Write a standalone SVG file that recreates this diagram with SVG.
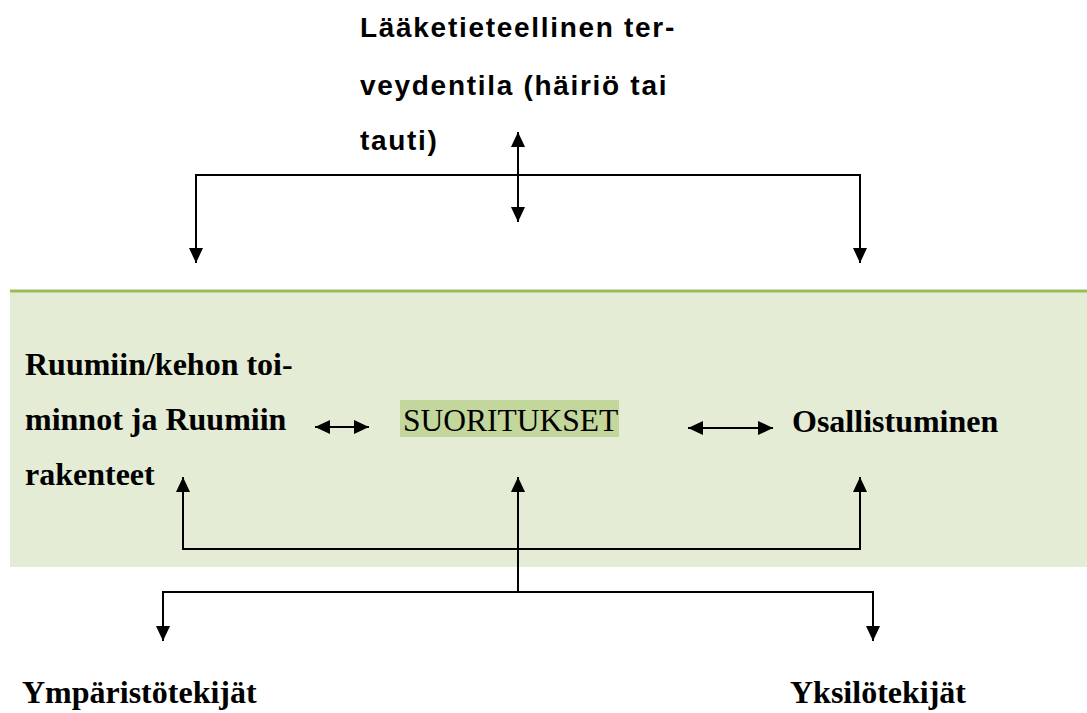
<svg xmlns="http://www.w3.org/2000/svg" width="1087" height="713" viewBox="0 0 1087 713">
<style>
.sans{font-family:"Liberation Sans",Arial,sans-serif;font-weight:bold;font-size:28px;letter-spacing:1.7px;fill:#000}
.serif{font-family:"Liberation Serif","Times New Roman",serif;font-size:31.5px;fill:#000}
.b{font-weight:bold;font-size:32px}
.ln{stroke:#000;stroke-width:2;fill:none}
.arr{marker-end:url(#ah)}
.arr2{marker-start:url(#ah);marker-end:url(#ah)}
</style>
<defs>
<marker id="ah" viewBox="0 0 15 14" refX="15" refY="7" markerWidth="15" markerHeight="14" markerUnits="userSpaceOnUse" orient="auto-start-reverse">
<path d="M0,0 L15,7 L0,14 z" fill="#000"/>
</marker>
</defs>
<rect width="1087" height="713" fill="#fff"/>
<g id="band">
<rect x="10" y="290" width="1077" height="277" fill="#E4ECD5"/>
<line x1="10" y1="291" x2="1087" y2="291" stroke="#9BBB59" stroke-width="3"/>
</g>
<g id="health">
<text class="sans" x="360" y="37">Lääketieteellinen ter-</text>
<text class="sans" x="360" y="95">veydentila (häiriö tai</text>
<text class="sans" x="360" y="150">tauti)</text>
</g>
<g id="body">
<text class="serif b" x="25" y="375">Ruumiin/kehon toi-</text>
<text class="serif b" x="25" y="430">minnot ja Ruumiin</text>
<text class="serif b" x="25" y="485">rakenteet</text>
</g>
<g id="activities">
<rect x="400" y="400" width="219" height="37" fill="#C3D69B"/>
<text class="serif" x="403" y="431">SUORITUKSET</text>
</g>
<g id="participation">
<text class="serif b" x="792" y="432">Osallistuminen</text>
</g>
<g id="environment">
<text class="serif b" x="22" y="703">Ympäristötekijät</text>
</g>
<g id="personal">
<text class="serif b" x="790" y="703">Yksilötekijät</text>
</g>
<g id="connectors">
<line class="ln arr2" x1="518" y1="132" x2="518" y2="222"/>
<polyline class="ln" points="196,175 860,175"/>
<line class="ln arr" x1="196" y1="174" x2="196" y2="263"/>
<line class="ln arr" x1="860" y1="174" x2="860" y2="263"/>
<line class="ln arr2" x1="315" y1="427" x2="369" y2="427"/>
<line class="ln arr2" x1="688" y1="428" x2="773" y2="428"/>
<polyline class="ln arr" points="518,549 183,549 183,477"/>
<polyline class="ln arr" points="518,549 860,549 860,477"/>
<line class="ln arr" x1="518" y1="592" x2="518" y2="477"/>
<polyline class="ln arr" points="518,592 163,592 163,641"/>
<polyline class="ln arr" points="518,592 873,592 873,641"/>
</g>
</svg>
